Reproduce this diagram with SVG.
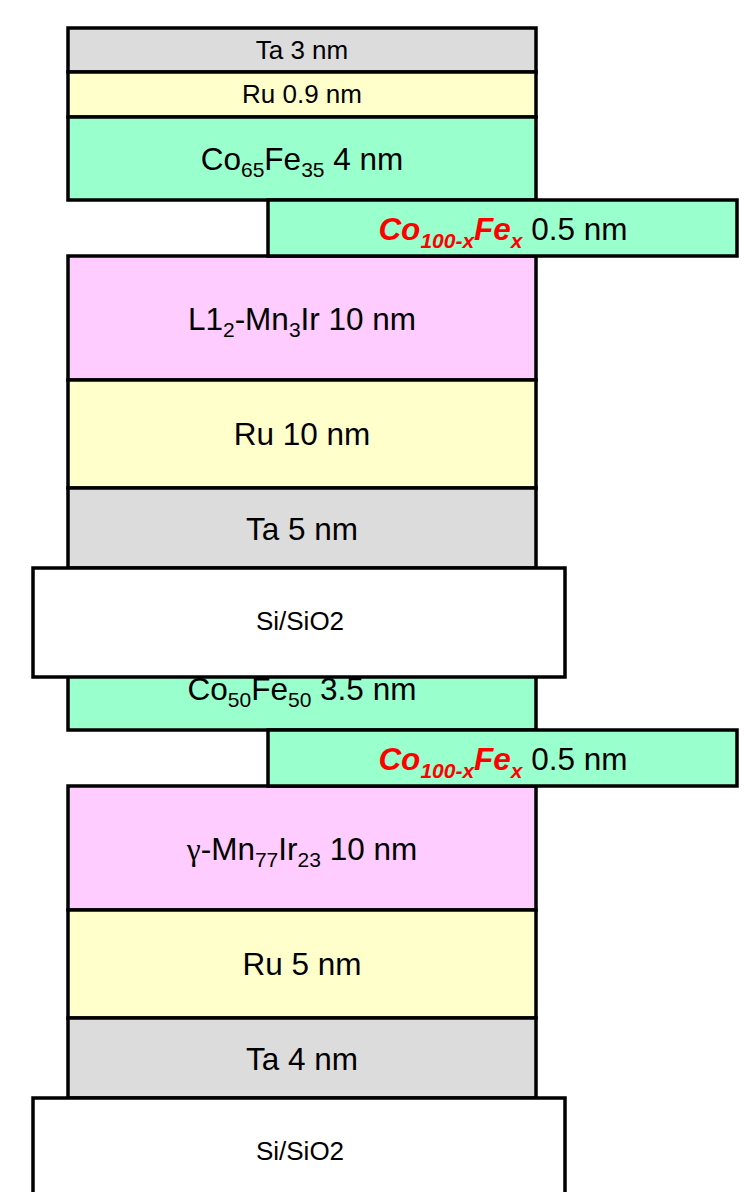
<svg xmlns="http://www.w3.org/2000/svg" width="756" height="1192" viewBox="0 0 756 1192">
<style>
.ta,.ru,.cf,.mn,.si{stroke:#000;stroke-width:3.5}
.ta{fill:#DCDCDC}
.ru{fill:#FFFFCC}
.cf{fill:#99FFCC}
.mn{fill:#FFCCFF}
.si{fill:#FFFFFF}
text{font-family:"Liberation Sans",Arial,sans-serif;fill:#000;text-anchor:middle}
.s{font-size:26px}
.l{font-size:31.5px}
.red{fill:#FF0000;font-weight:bold;font-style:italic}
.g{font-family:"Liberation Serif","Times New Roman",serif}
</style>
<rect width="756" height="1192" fill="#fff"/>
<g id="stack1">
<g id="ta3"><rect class="ta" x="68" y="28" width="468" height="44"/><text class="s" x="302" y="59">Ta 3 nm</text></g>
<g id="ru09"><rect class="ru" x="68" y="72" width="468" height="45"/><text class="s" x="302" y="103">Ru 0.9 nm</text></g>
<g id="co65fe35"><rect class="cf" x="68" y="117" width="468" height="83"/><text class="l" x="302" y="170">Co<tspan font-size="21" dy="7">65</tspan><tspan dy="-7">Fe</tspan><tspan font-size="21" dy="7">35</tspan><tspan dy="-7"> 4 nm</tspan></text></g>
<g id="l12mn3ir"><rect class="mn" x="68" y="256" width="468" height="124"/><text class="l" x="302" y="330">L1<tspan font-size="21" dy="7">2</tspan><tspan dy="-7">-Mn</tspan><tspan font-size="21" dy="7">3</tspan><tspan dy="-7">Ir 10 nm</tspan></text></g>
<g id="cofex1"><rect class="cf" x="268" y="200" width="469" height="56"/><text class="l" x="503" y="240"><tspan class="red">Co</tspan><tspan class="red" font-size="21" dy="8">100-x</tspan><tspan class="red" dy="-8">Fe</tspan><tspan class="red" font-size="21" dy="8">x</tspan><tspan dy="-8"> 0.5 nm</tspan></text></g>
<g id="ru10"><rect class="ru" x="68" y="380" width="468" height="108"/><text class="l" x="302" y="445">Ru 10 nm</text></g>
<g id="ta5"><rect class="ta" x="68" y="488" width="468" height="80"/><text class="l" x="302" y="540">Ta 5 nm</text></g>
</g>
<g id="stack2">
<g id="co50fe50"><rect class="cf" x="68" y="647" width="468" height="83"/><text class="l" x="302" y="700">Co<tspan font-size="21" dy="7">50</tspan><tspan dy="-7">Fe</tspan><tspan font-size="21" dy="7">50</tspan><tspan dy="-7"> 3.5 nm</tspan></text></g>
<g id="si1"><rect class="si" x="33" y="568" width="532" height="109"/><text class="s" x="300" y="630">Si/SiO2</text></g>
<g id="gmnir"><rect class="mn" x="68" y="786" width="468" height="124"/><text class="l" x="302" y="860"><tspan class="g">γ</tspan>-Mn<tspan font-size="21" dy="7">77</tspan><tspan dy="-7">Ir</tspan><tspan font-size="21" dy="7">23</tspan><tspan dy="-7"> 10 nm</tspan></text></g>
<g id="cofex2"><rect class="cf" x="268" y="730" width="469" height="56"/><text class="l" x="503" y="770"><tspan class="red">Co</tspan><tspan class="red" font-size="21" dy="8">100-x</tspan><tspan class="red" dy="-8">Fe</tspan><tspan class="red" font-size="21" dy="8">x</tspan><tspan dy="-8"> 0.5 nm</tspan></text></g>
<g id="ru5"><rect class="ru" x="68" y="910" width="468" height="108"/><text class="l" x="302" y="975">Ru 5 nm</text></g>
<g id="ta4"><rect class="ta" x="68" y="1018" width="468" height="80"/><text class="l" x="302" y="1070">Ta 4 nm</text></g>
<g id="si2"><rect class="si" x="33" y="1098" width="532" height="110"/><text class="s" x="300" y="1160">Si/SiO2</text></g>
</g>
<g id="connectors"></g>
</svg>
